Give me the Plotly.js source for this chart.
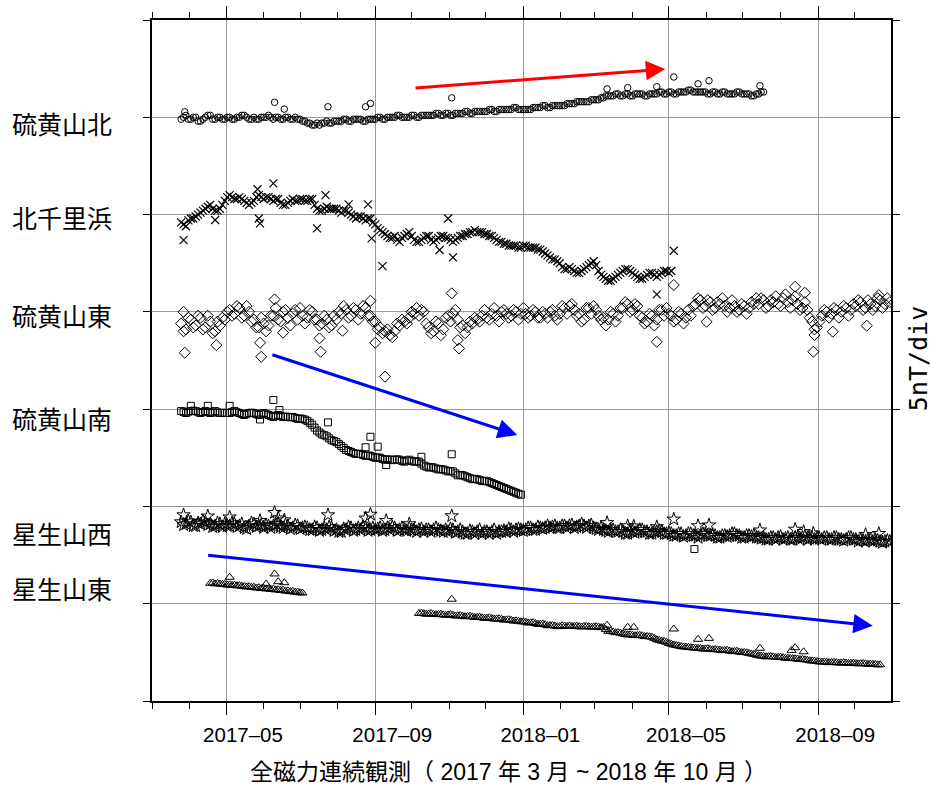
<!DOCTYPE html>
<html><head><meta charset="utf-8">
<script src="https://cdn.plot.ly/plotly-3.0.1.min.js"></script>
<style>html,body{margin:0;padding:0;background:#fff}#chart{width:932px;height:785px}</style>
</head><body><div id="chart"></div>
<script>
// ---- sampling of the continuous series (one reading every 2 days) ----
const STEP_DAYS = 2;

// ---- station names and label positions (nT, 5 nT per division) ----
const stations = ['硫黄山北', '北千里浜', '硫黄山東', '硫黄山南', '星生山西', '星生山東'];
const stationLabelValue = [29.7, 24.85, 19.84, 14.54, 8.63, 5.81];

// ---- 硫黄山北 (circles) ----
const northStart = '2017-03-25';
const northValues = [
  29.9, 30.0, 30.1, 29.9, 29.9, 30.0, 30.0, 29.8, 29.8, 29.9, 30.0, 30.1, 30.1, 29.9, 29.9, 30.0, 30.0, 29.9, 29.9, 30.0,
  30.0, 29.9, 29.9, 30.0, 30.0, 30.1, 30.1, 30.0, 29.9, 29.9, 30.0, 29.9, 29.9, 30.0, 30.0, 30.0, 30.1, 30.0, 29.9, 30.0, 30.0, 29.9, 29.9, 30.0, 30.0, 29.9, 29.9, 30.0, 29.9, 29.9,
  29.8, 29.8, 29.7, 29.7, 29.6, 29.6, 29.7, 29.6, 29.7, 29.7, 29.8, 29.7, 29.7, 29.8, 29.8, 29.8,
  29.8, 29.9, 29.9, 29.8, 29.8, 29.9, 29.9, 29.9, 29.9, 29.8, 29.8, 29.9, 29.9, 29.9, 29.9, 30.0,
  30.0, 29.9, 29.9, 30.0, 30.0, 30.0, 30.0, 30.1, 30.1, 30.0, 30.0, 30.0, 30.0, 30.1, 30.1, 30.0, 30.0, 30.1, 30.1, 30.1, 30.1, 30.1,
  30.1, 30.2, 30.2, 30.1, 30.1, 30.2, 30.2, 30.1, 30.1, 30.2, 30.2, 30.2, 30.2, 30.3,
  30.3, 30.2, 30.2, 30.3, 30.3, 30.3, 30.3, 30.3, 30.3, 30.4, 30.4, 30.3, 30.3, 30.4, 30.4, 30.4, 30.4, 30.4, 30.4, 30.5, 30.5, 30.4, 30.4, 30.4,
  30.4, 30.4, 30.4, 30.5, 30.5, 30.5, 30.5, 30.6, 30.6, 30.5, 30.5, 30.6, 30.6, 30.6, 30.6, 30.6, 30.6, 30.7,
  30.7, 30.7, 30.7, 30.8, 30.8, 30.8, 30.8, 30.8, 30.8, 30.9, 30.9, 30.9, 30.9, 31.0,
  31.0, 31.1, 31.1, 31.1, 31.1, 31.2, 31.2, 31.1, 31.1, 31.2, 31.2, 31.1, 31.1, 31.2, 31.2, 31.2, 31.2, 31.1, 31.1, 31.2, 31.2, 31.2, 31.2, 31.3, 31.3, 31.2, 31.2, 31.3,
  31.3, 31.2, 31.2, 31.3, 31.3, 31.3, 31.3, 31.4, 31.4, 31.3, 31.3, 31.3, 31.3, 31.3,
  31.3, 31.2, 31.2, 31.3, 31.3, 31.2, 31.2, 31.3, 31.3, 31.2, 31.2, 31.2, 31.2, 31.3, 31.3, 31.2, 31.2, 31.2, 31.2, 31.1, 31.1, 31.2, 31.2, 31.3, 31.3
];
const northOutDates = ['2017-03-28','2017-06-10','2017-06-18','2017-07-24','2017-08-24','2017-08-28','2017-11-03','2018-03-11','2018-03-28','2018-04-21','2018-05-05','2018-05-25','2018-06-03','2018-07-15'];
const northOutValues = [30.28, 30.77, 30.42, 30.54, 30.54, 30.71, 31.0, 31.46, 31.52, 31.57, 32.07, 31.72, 31.88, 31.62];

// ---- 北千里浜 (crosses) ----
const kitaStart = '2017-03-25';
const kitaValues = [
  24.6, 24.5, 24.4, 24.7, 24.8, 24.8, 24.9, 25.0, 25.1, 25.2, 25.3, 25.4, 25.5, 25.3, 25.2, 25.2, 25.3, 25.5, 25.7, 25.9,
  26.0, 25.9, 25.8, 25.8, 25.9, 25.8, 25.7, 25.6, 25.5, 25.6, 25.7, 25.9, 26.0, 25.9, 25.8, 25.9, 25.9, 25.8, 25.7, 25.8,
  25.8, 25.6, 25.5, 25.5, 25.6, 25.7, 25.8, 25.7, 25.7, 25.8, 25.8, 25.7, 25.7, 25.8, 25.8, 25.5, 25.3, 25.2, 25.2, 25.3,
  25.4, 25.3, 25.3, 25.3, 25.3, 25.2, 25.1, 25.2, 25.2, 25.1, 25.0, 24.9, 24.8, 24.9, 24.9, 24.8, 24.7, 24.8, 24.8, 24.6,
  24.5, 24.3, 24.2, 24.1, 24.0, 23.9, 23.8, 23.8, 23.9, 23.7, 23.6, 23.8, 23.9, 24.0, 24.1, 23.9, 23.7, 23.6, 23.6, 23.7,
  23.8, 23.9, 23.9, 23.7, 23.6, 23.7, 23.8, 23.9, 23.9, 23.8, 23.8, 23.7, 23.6, 23.7, 23.8, 23.9, 23.9, 24.0, 24.0, 24.1,
  24.1, 24.2, 24.1, 24.1, 24.1, 24.0, 24.0, 23.9, 23.9, 23.8, 23.7, 23.6, 23.6, 23.5, 23.5, 23.4, 23.4, 23.4, 23.4, 23.3,
  23.3, 23.4, 23.4, 23.3, 23.3, 23.3, 23.3, 23.2, 23.2, 23.1, 23.0, 22.9, 22.8, 22.7, 22.7, 22.6, 22.5, 22.3, 22.2, 22.2,
  22.3, 22.2, 22.1, 22.0, 22.0, 22.1, 22.2, 22.3, 22.4, 22.5, 22.6, 22.4, 22.1, 21.9, 21.8, 21.7, 21.6, 21.6, 21.7, 21.8,
  21.9, 22.0, 22.1, 22.2, 22.2, 22.1, 22.0, 21.9, 21.8, 21.7, 21.7, 21.8, 21.9, 22.0, 22.0, 21.9, 21.8, 21.9, 22.0, 22.1,
  22.1, 22.0, 22.1
];
const kitaOutDates = ['2017-03-27','2017-04-22','2017-05-28','2017-05-29','2017-05-27','2017-06-09','2017-07-15','2017-07-22','2017-08-10','2017-08-26','2017-08-29','2017-09-07','2017-10-31','2017-10-24','2017-11-04','2018-05-05','2018-04-21'];
const kitaOutValues = [23.69, 24.72, 24.8, 24.55, 26.3, 26.6, 24.29, 26.0, 25.52, 25.52, 23.78, 22.35, 24.8, 23.18, 22.8, 23.14, 20.9];

// ---- 硫黄山東 (diamonds) ----
const eastStart = '2017-03-25';
const eastValues = [
  19.4, 19.0, 19.1, 19.7, 19.6, 19.2, 19.3, 19.8, 19.7, 19.1, 19.2, 19.8, 19.5, 18.9, 19.0, 19.5, 19.3, 19.7,
  19.6, 20.0, 20.1, 19.8,
  19.9, 20.3, 20.2, 19.7, 19.8, 20.3, 20.0, 19.5, 19.6, 19.2,
  19.2, 19.7, 19.4, 19.0, 19.3, 19.8,
  19.8, 20.2, 19.6, 19.5, 20.0, 20.1, 19.7, 19.3, 19.9, 20.1, 19.6, 20.2, 19.8, 19.4, 19.7, 20.1, 20.0, 19.6, 19.6, 19.3,
  19.4, 19.8, 19.6, 19.2, 19.3, 19.8, 19.6, 20.0,
  19.9, 20.3, 20.1, 19.7, 19.8, 20.2, 20.1, 19.6, 19.9, 20.3, 20.2, 19.8, 19.8, 19.5,
  19.5, 19.1, 19.2, 18.9, 19.0, 19.1, 18.8, 18.7, 19.0, 19.4,
  19.3, 19.6, 19.5, 19.4, 19.7, 20.0, 19.9, 20.2, 19.8, 20.1, 20.0, 19.4,
  19.2, 18.9, 19.0, 19.5, 19.4, 18.8, 19.1, 19.7,
  19.8, 19.5, 19.9, 20.1, 19.6, 19.2,
  19.3, 18.9, 19.2, 19.5, 19.4, 19.7, 19.6, 19.5,
  19.8, 20.1, 19.7, 19.6, 19.9, 20.2, 19.8, 19.5, 20.0, 20.1, 19.9, 19.7, 19.8, 20.1, 20.0, 19.6, 19.9, 20.2,
  19.9, 19.7, 19.8, 20.1, 20.0, 19.7, 19.7, 20.0, 19.9, 19.7, 20.0, 20.1, 19.8, 19.6, 19.9, 20.3,
  20.2, 19.9, 20.3, 20.4, 20.1, 19.8, 19.9, 19.5,
  19.6, 20.2, 20.2, 19.9, 20.3, 20.1,
  19.8, 19.6, 19.7, 19.3, 19.6, 20.0, 19.9, 19.5, 19.8, 20.2,
  20.2, 20.5, 20.4, 20.0, 20.1, 20.4, 20.3, 19.8,
  19.7, 19.4, 19.5, 19.9, 19.8, 19.3, 19.6, 20.1,
  20.1, 19.8, 20.2, 19.9,
  19.8, 19.5, 19.6, 20.0, 19.9, 19.4, 19.7, 20.1, 19.8, 20.3,
  20.4, 20.7, 20.6, 20.2, 20.3, 20.6, 20.5, 20.1, 20.2, 20.5, 20.4, 20.7, 20.3, 20.0,
  20.2, 20.6, 20.3, 20.0, 20.1, 20.4, 20.3, 19.9, 20.2, 20.5, 20.4, 20.7,
  20.4, 20.7, 20.6, 20.2, 20.3, 20.6, 20.5, 20.8, 20.4, 20.3, 20.7, 20.9, 20.5, 20.2, 20.6, 20.8, 20.4, 20.1,
  20.2, 20.5, 20.1, 19.7,
  19.5, 19.1, 19.2, 19.5,
  19.8, 20.1, 20.0, 19.7, 19.9, 20.2, 20.1, 19.7, 20.0, 20.3, 20.2, 19.8, 20.1, 20.4,
  20.3, 20.6, 20.5, 20.1, 20.2, 20.6, 20.4, 20.1, 20.3, 20.7, 20.6, 20.2, 20.4, 20.7, 20.5
];
const eastOutDates = ['2017-03-27','2017-03-28','2017-04-23','2017-05-29','2017-05-30','2017-06-10','2017-06-17','2017-07-17','2017-07-18','2017-08-05','2017-08-28','2017-09-01','2017-09-09','2017-11-03','2017-11-08','2017-11-09','2018-04-21','2018-05-05','2018-06-01','2018-08-13','2018-08-21','2018-08-28','2018-08-29','2018-09-13','2018-10-11','2018-10-21'];
const eastOutValues = [20.0, 17.9, 18.29, 18.41, 17.69, 20.64, 18.93, 18.64, 17.95, 19.03, 20.57, 18.41, 16.67, 20.95, 18.55, 18.12, 18.46, 21.38, 19.49, 21.29, 20.98, 17.95, 18.81, 18.98, 19.29, 20.86];

// ---- 硫黄山南 (squares) ----
const southStart = '2017-03-25';
const southValues = [
  14.90, 14.86, 14.80, 14.87, 14.90, 14.92, 14.90, 14.84, 14.80, 14.85, 14.90, 14.86, 14.80, 14.84, 14.90, 14.83, 14.80, 14.82, 14.80, 14.80,
  14.80, 14.86, 14.90, 14.84, 14.80, 14.75, 14.70, 14.76, 14.80, 14.82, 14.80, 14.74, 14.70, 14.76, 14.80, 14.74,
  14.70, 14.64, 14.60, 14.66, 14.70, 14.64, 14.60, 14.62, 14.60, 14.58, 14.60, 14.55, 14.50, 14.52, 14.50, 14.46,
  14.40, 14.30, 14.20, 14.05, 13.90, 13.80,
  13.70, 13.66, 13.60, 13.50, 13.40, 13.36, 13.30, 13.20,
  13.10, 13.00, 12.90, 12.85, 12.80, 12.74, 12.70, 12.70,
  12.70, 12.64, 12.60, 12.62, 12.60, 12.55, 12.50, 12.52, 12.50, 12.44, 12.40, 12.42, 12.40, 12.38,
  12.40, 12.42, 12.40, 12.34, 12.30, 12.36, 12.40, 12.34, 12.30, 12.32, 12.30, 12.20,
  12.10, 12.05, 12.00, 12.02, 12.00, 11.95, 11.90, 11.92, 11.90, 11.85, 11.80, 11.82, 11.80, 11.70,
  11.60, 11.62, 11.60, 11.55, 11.50, 11.45, 11.40, 11.42, 11.40, 11.35, 11.30, 11.32, 11.30, 11.25,
  11.20, 11.15, 11.10, 11.05, 11.00, 10.95, 10.90, 10.85, 10.80, 10.75, 10.70, 10.65, 10.60
];
const southOutDates = ['2017-04-02','2017-04-16','2017-05-04','2017-06-09','2017-06-14','2017-05-29','2017-07-24','2017-08-28','2017-08-24','2017-09-03','2017-09-10','2017-10-09','2017-11-03','2018-05-22'];
const southOutValues = [15.17, 15.17, 15.17, 15.47, 14.95, 14.47, 14.32, 13.58, 13.04, 13.07, 12.13, 12.55, 12.68, 7.81];

// ---- 星生山西 (stars) ----
const westStart = '2017-03-25';
const westValues = [
  9.20, 9.05, 9.10, 9.25, 9.20, 9.00, 9.00, 9.15, 9.10, 9.25, 9.20, 9.05, 9.10, 8.95, 9.00, 9.15, 9.10, 8.95, 9.10, 9.00,
  9.00, 9.15, 9.10, 8.95, 9.00, 9.10, 8.90, 8.85, 9.00, 9.15, 9.10, 8.95, 9.00, 9.05, 8.90, 9.05, 9.00, 8.90, 9.00, 9.10, 9.10, 8.95, 8.90, 9.05, 9.00, 8.85, 8.90, 9.05, 9.00, 8.85, 8.90, 8.95, 8.90, 8.80,
  8.80, 8.95, 8.90, 8.75, 8.80, 8.90, 8.80, 8.95, 8.90, 8.75, 8.80, 8.70, 8.70, 8.85, 8.80, 8.95, 8.90, 8.75, 8.80, 8.90, 8.80, 8.95, 8.90, 8.75, 8.80, 8.90, 8.80, 8.85,
  8.90, 8.75, 8.80, 8.90, 8.80, 8.95, 8.90, 8.75, 8.80, 8.90, 8.80, 8.75, 8.90, 8.80, 8.80, 8.70, 8.80, 8.85, 8.70, 8.80, 8.80, 8.70, 8.80, 8.90, 8.80, 8.75, 8.70, 8.80,
  8.70, 8.85, 8.80, 8.65, 8.70, 8.80, 8.70, 8.60, 8.60, 8.75, 8.70, 8.60, 8.70, 8.80, 8.60, 8.70, 8.70, 8.60, 8.70, 8.80, 8.60, 8.70, 8.70, 8.75, 8.70, 8.85, 8.80, 8.70, 8.80, 8.85,
  8.80, 8.75, 8.80, 8.90, 8.90, 8.80, 8.80, 8.95, 8.90, 8.85, 8.90, 9.00, 8.90, 8.95,
  9.00, 8.90, 8.90, 9.00, 9.00, 8.90, 9.00, 9.05, 8.90, 8.95, 9.00, 9.10, 9.00, 8.90, 9.00, 9.05, 8.90, 8.85, 8.80, 8.90, 8.80, 8.75,
  8.70, 8.80, 8.80, 8.70, 8.70, 8.80, 8.70, 8.60, 8.60, 8.75, 8.70, 8.65, 8.70, 8.80, 8.80, 8.70, 8.70, 8.60, 8.60, 8.70, 8.70, 8.75, 8.70, 8.60, 8.60, 8.65,
  8.60, 8.50, 8.50, 8.60, 8.60, 8.45, 8.50, 8.60, 8.60, 8.50, 8.50, 8.40, 8.50, 8.60, 8.60, 8.50, 8.50, 8.55, 8.50, 8.40, 8.40, 8.50, 8.50, 8.45, 8.50, 8.60, 8.60, 8.50, 8.50, 8.40, 8.40, 8.50, 8.50, 8.45, 8.50, 8.40,
  8.40, 8.35, 8.40, 8.30, 8.30, 8.40, 8.40, 8.30, 8.40, 8.45, 8.30, 8.35, 8.40, 8.30, 8.30, 8.40, 8.40, 8.30, 8.40, 8.45, 8.30, 8.35, 8.40, 8.30, 8.40, 8.35, 8.30, 8.40,
  8.40, 8.30, 8.30, 8.40, 8.40, 8.30, 8.30, 8.25, 8.30, 8.40, 8.40, 8.30, 8.30, 8.20, 8.30, 8.25, 8.20, 8.30, 8.30, 8.20, 8.30, 8.25, 8.20, 8.15, 8.20, 8.25, 8.20
];
const westOutDates = ['2017-03-27','2017-04-16','2017-05-04','2017-05-29','2017-06-10','2017-06-18','2017-06-13','2017-07-24','2017-08-24','2017-08-28','2017-09-10','2017-09-29','2017-11-03','2018-03-11','2018-03-28','2018-04-02','2018-04-21','2018-05-05','2018-05-25','2018-06-03','2018-07-15','2018-08-13','2018-08-20','2018-08-28','2018-10-10','2018-10-21'];
const westOutValues = [9.56, 9.5, 9.45, 9.27, 9.68, 9.3, 9.4, 9.56, 9.39, 9.59, 9.27, 9.1, 9.51, 9.16, 9.0, 8.98, 8.95, 9.34, 9.0, 9.04, 8.78, 8.82, 8.7, 8.62, 8.55, 8.6];

// ---- 星生山東 (triangles), two observation periods ----
const hoshiEastStartA = '2017-04-18';
const hoshiEastValuesA = [6.05, 6.07, 6.02, 6.04, 6.01, 5.99, 6.00, 5.96, 5.97, 5.94, 5.96, 5.92, 5.93, 5.90, 5.89, 5.86, 5.88, 5.84, 5.85, 5.81, 5.82, 5.78, 5.80, 5.76, 5.77, 5.73, 5.75, 5.71, 5.72, 5.68, 5.70, 5.65, 5.66, 5.62, 5.64, 5.59, 5.60, 5.56, 5.55];
const hoshiEastStartB = '2017-10-07';
const hoshiEastValuesB = [
  4.50, 4.52, 4.49, 4.46, 4.47, 4.49, 4.46, 4.44, 4.45, 4.46, 4.43, 4.40, 4.42, 4.44, 4.41, 4.37, 4.38, 4.39, 4.36, 4.33, 4.35, 4.36, 4.33, 4.29, 4.30, 4.31, 4.28, 4.25, 4.26, 4.28, 4.24, 4.21, 4.22, 4.23, 4.20, 4.16, 4.17, 4.18, 4.15, 4.11, 4.12, 4.10,
  4.07, 4.08, 4.05, 4.01, 4.02, 4.03, 3.98, 3.94, 3.95, 3.96, 3.92, 3.87, 3.88, 3.89, 3.85, 3.82, 3.83, 3.87, 3.85, 3.84,
  3.86, 3.83, 3.84, 3.85, 3.82, 3.80, 3.83, 3.84, 3.82, 3.79, 3.81, 3.82, 3.80, 3.77, 3.78, 3.68,
  3.58, 3.59, 3.55, 3.51, 3.52, 3.49, 3.45, 3.42,
  3.40, 3.41, 3.38, 3.36, 3.37, 3.38, 3.35, 3.31, 3.32, 3.30, 3.28, 3.22,
  3.15, 3.12, 3.08, 3.06, 3.02, 2.96, 2.92, 2.88,
  2.85, 2.83, 2.80, 2.78, 2.77, 2.76, 2.74, 2.73,
  2.72, 2.71, 2.70, 2.67, 2.68, 2.69, 2.66, 2.64, 2.65, 2.63, 2.62, 2.59, 2.60, 2.61, 2.57, 2.54, 2.55, 2.56, 2.52, 2.49, 2.50, 2.48, 2.45, 2.42, 2.40, 2.36,
  2.33, 2.31, 2.30, 2.27, 2.28, 2.29, 2.27, 2.24, 2.25, 2.26, 2.23, 2.20, 2.20, 2.19,
  2.18, 2.17, 2.16, 2.13, 2.14, 2.12, 2.10, 2.07, 2.06, 2.05, 2.03, 2.01,
  2.00, 2.01, 1.99, 1.97, 1.98, 1.99, 1.97, 1.95, 1.96, 1.97, 1.95, 1.93, 1.94, 1.95, 1.93, 1.91, 1.92, 1.93, 1.91, 1.89, 1.90, 1.89, 1.88, 1.86, 1.86
];
const hoshiEastOutDates = ['2017-05-04','2017-06-10','2017-06-03','2017-06-13','2017-06-18','2017-11-03','2018-03-11','2018-03-28','2018-04-02','2018-05-05','2018-05-25','2018-06-03','2018-07-15','2018-08-13','2018-08-20','2018-08-10'];
const hoshiEastOutValues = [6.36, 6.53, 6.01, 6.13, 6.08, 5.23, 3.9, 3.79, 3.79, 3.7, 3.17, 3.22, 2.71, 2.74, 2.53, 2.6];

// ---- trend arrows (date, nT) ----
const arrowFromDates = ['2017-10-03', '2017-06-07', '2017-04-15'];
const arrowFromValues = [31.5, 17.82, 7.50];
const arrowToDates = ['2018-04-28', '2017-12-27', '2018-10-16'];
const arrowToValues = [32.48, 13.67, 3.87];
const arrowColors = ['#ff0000', '#0000ff', '#0000ff'];

// ---- helpers ----
function seq(start, n) {
  const t0 = Date.parse(start + 'T00:00:00Z');
  const out = [];
  for (let i = 0; i < n; i++) out.push(new Date(t0 + i * STEP_DAYS * 864e5).toISOString().slice(0, 10));
  return out;
}
function series(start, vals, outD, outV, symbol, size, lw) {
  return {
    type: 'scatter', mode: 'markers',
    x: seq(start, vals.length).concat(outD || []),
    y: vals.concat(outV || []),
    marker: {symbol: symbol, size: size, color: '#000', line: {color: '#000', width: lw}},
    hoverinfo: 'x+y', showlegend: false
  };
}

const traces = [
  series(northStart, northValues, northOutDates, northOutValues, 'circle-open', 6.5, 1),
  series(kitaStart, kitaValues, kitaOutDates, kitaOutValues, 'x-thin-open', 8, 1.2),
  series(eastStart, eastValues, eastOutDates, eastOutValues, 'diamond-open', 8.5, 1),
  series(southStart, southValues, southOutDates, southOutValues, 'square-open', 7, 1),
  series(westStart, westValues, westOutDates, westOutValues, 'star-open', 10, 1),
  series(hoshiEastStartA, hoshiEastValuesA, [], [], 'triangle-up-open', 8, 1),
  series(hoshiEastStartB, hoshiEastValuesB, hoshiEastOutDates, hoshiEastOutValues, 'triangle-up-open', 8, 1)
];

const annotations = [];
stations.forEach((name, i) => {
  annotations.push({xref: 'paper', x: 0, xanchor: 'left', xshift: -142, yref: 'y', y: stationLabelValue[i], yanchor: 'middle',
    text: name, showarrow: false, font: {family: 'Noto Sans CJK JP', size: 25, color: '#000'}});
});
arrowFromDates.forEach((d, i) => {
  annotations.push({xref: 'x', yref: 'y', axref: 'x', ayref: 'y', x: arrowToDates[i], y: arrowToValues[i], ax: d, ay: arrowFromValues[i],
    text: '', showarrow: true, arrowhead: 2, arrowsize: 1.3, arrowwidth: 3, arrowcolor: arrowColors[i], standoff: 0});
});
annotations.push({xref: 'paper', x: 1, xanchor: 'center', xshift: 27, yref: 'y', y: 17.57, yanchor: 'middle', textangle: -90,
  text: '5nT/div', showarrow: false, font: {family: 'DejaVu Sans Mono', size: 25, color: '#000'}});
annotations.push({xref: 'paper', x: 0.4825, xanchor: 'center', yref: 'paper', y: -0.104, yanchor: 'middle',
  text: '全磁力連続観測（ 2017 年 3 月 ~ 2018 年 10 月 ）', showarrow: false,
  font: {family: 'Liberation Sans, Noto Sans CJK JP', size: 23, color: '#000'}});

const layout = {
  width: 932, height: 785,
  margin: {l: 152, r: 41, t: 20, b: 84, pad: 0},
  paper_bgcolor: '#fff', plot_bgcolor: '#fff',
  showlegend: false,
  font: {family: 'Liberation Sans, Noto Sans CJK JP, sans-serif', color: '#000'},
  xaxis: {
    type: 'date', range: ['2017-03-01', '2018-10-31'],
    tickmode: 'linear', tick0: '2017-01-01', dtick: 'M4', tickformat: '%Y–%m',
    ticks: 'outside', ticklen: 12, tickwidth: 1, tickcolor: '#000', ticklabelstandoff: 2, ticklabelshift: 17,
    tickfont: {size: 20.5, color: '#000'},
    showgrid: true, gridcolor: '#999', gridwidth: 1,
    showline: true, linecolor: '#000', linewidth: 2, mirror: 'ticks', zeroline: false,
    minor: {dtick: 'M1', tick0: '2017-01-01', ticks: 'outside', ticklen: 6, tickwidth: 1, tickcolor: '#000', showgrid: false}
  },
  yaxis: {
    range: [0, 35], tickmode: 'linear', tick0: 0, dtick: 5,
    ticks: 'outside', ticklen: 7, tickwidth: 1, tickcolor: '#000', showticklabels: false,
    showgrid: true, gridcolor: '#999', gridwidth: 1,
    showline: true, linecolor: '#000', linewidth: 2, mirror: 'ticks', zeroline: false
  },
  annotations: annotations
};

Plotly.newPlot('chart', traces, layout, {displayModeBar: false, staticPlot: true});
</script>
</body></html>
